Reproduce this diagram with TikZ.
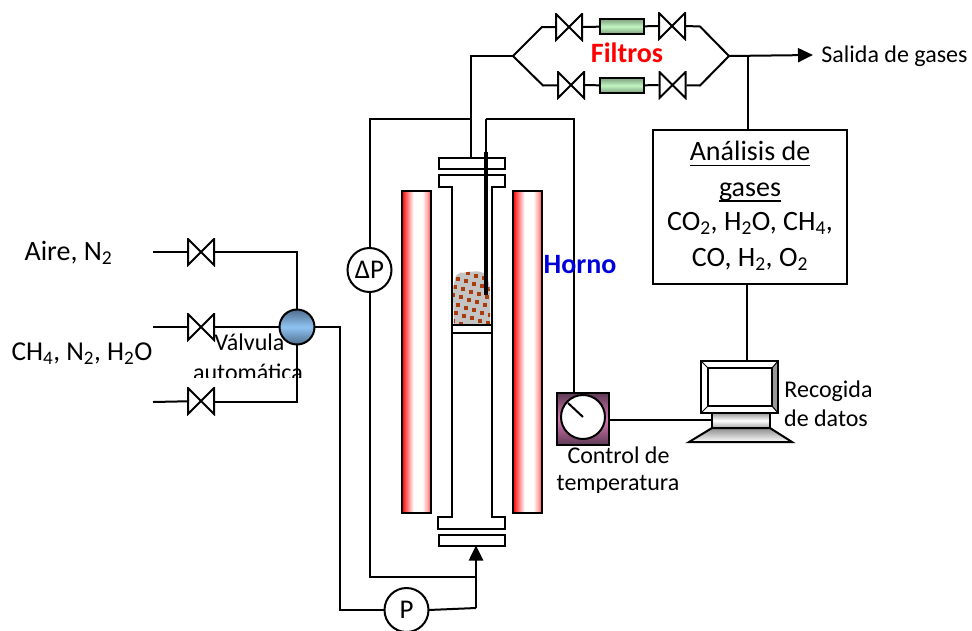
\documentclass[tikz,border=0pt]{standalone}
\usepackage{fontspec}
\setmainfont{Carlito}
\usetikzlibrary{arrows.meta,positioning}

\newcommand{\ulabel}[1]{\setbox0=\hbox{#1}\copy0\kern-\wd0\rule[-5.6pt]{\wd0}{1.6pt}}
\definecolor{bedgray}{HTML}{C4C4C4}
\definecolor{bedbrown}{HTML}{A83C0C}
\definecolor{autotop}{HTML}{4F6E8E}
\definecolor{automid}{HTML}{8FC3F2}
\definecolor{filteredge}{HTML}{7F9F7F}
\definecolor{filtermid}{HTML}{C0F5C0}
\definecolor{ctledge}{HTML}{5E3A55}
\definecolor{ctlmid}{HTML}{D878B0}
\pgfdeclarehorizontalshading{furnaceshade}{100bp}{color(0bp)=(red); color(25bp)=(red); color(34bp)=(red!55); color(45bp)=(white); color(60bp)=(white); color(70bp)=(red!40); color(75bp)=(red!80); color(100bp)=(red!80)}

\begin{document}
\begin{tikzpicture}[
  x=1pt, y=-1pt,
  line width=2pt,
  valve/.style={inner sep=0pt, outer sep=0pt, minimum width=28pt, minimum height=28pt,
    path picture={\draw ([shift={(1pt,1pt)}]path picture bounding box.south west) -- ([shift={(-1pt,-1pt)}]path picture bounding box.north east) -- ([shift={(-1pt,1pt)}]path picture bounding box.south east) -- ([shift={(1pt,-1pt)}]path picture bounding box.north west) -- cycle;}},
  filterbox/.style={rectangle, draw, inner sep=0pt, outer sep=0pt, minimum width=44pt, minimum height=15pt,
    top color=filteredge, bottom color=filteredge, middle color=filtermid},
  gauge/.style={circle, draw, fill=white, inner sep=0pt, outer sep=0pt, minimum size=44pt, font=\fontsize{27}{30}\selectfont},
  flange/.style={rectangle, draw, fill=white, inner sep=0pt, outer sep=0pt, minimum width=66pt, minimum height=11pt},
  heater/.style={rectangle, draw, shading=furnaceshade, inner sep=0pt, outer sep=0pt, minimum width=29pt, minimum height=322pt},
  biglabel/.style={inner sep=0pt, anchor=base, align=center, font=\fontsize{28}{30}\selectfont},
  headlabel/.style={inner sep=0pt, anchor=base, align=center, font=\fontsize{28}{30}\selectfont\bfseries},
  smalllabel/.style={inner sep=0pt, anchor=base, align=center, font=\fontsize{24}{26}\selectfont},
  rel/.style={-{Triangle[length=15pt,width=14pt]}}
]
\useasboundingbox (0,0) rectangle (972,630);

% left valves
\node[valve] (valveA) at (201,252) {};
\node[valve] (valveB) at (201,327) {};
\node[valve] (valveC) at (201,401) {};
\node[circle, draw, inner sep=0pt, outer sep=0pt, minimum size=35pt, top color=autotop, bottom color=autotop, middle color=automid] (auto) at (297,327) {};
\coordinate (inA) at (153,252);
\coordinate (inB) at (153,327);
\coordinate (inC) at (153,402);

\draw (inA) -- (valveA);
\draw (inB) -- (valveB);
\draw (inC) -- (valveC);
\draw (valveA.east) -| (auto.north);
\draw (valveB) -- (auto);
\draw (valveC.east |- inC) -| (auto.south);

% reactor
\node[heater] (heatL) at (416.5,352) {};
\node[heater] (heatR) at (527.5,352) {};
\node[flange] (topcap) at (471.5,163.5) {};
\node[flange] (botcap) at (472,540) {};
\draw[fill=white] (452,517) -- (438,517) -- (438,529) -- (505,529) -- (505,517) -- (492,517) -- (492,187) -- (505,187) -- (505,175) -- (439,175) -- (439,187) -- (452,187) -- cycle;
\begin{scope}
  \clip (453,295) .. controls (454,280) and (455,274) .. (460,273) .. controls (470,272) and (478,270) .. (484,273) .. controls (488,276) and (490,285) .. (490,295) -- (490,324) -- (454,324) -- cycle;
  \fill[bedgray] (450,268) rectangle (494,326);
  \foreach \i in {-1,...,7}
    \foreach \j in {0,...,9}
      \fill[bedbrown] ({450+\i*8-\j*2.5},{266+\j*8+\i*2.5}) rectangle ++(4,4);
\end{scope}
\draw (452,325) -- (492,325);
\draw (452,333) -- (492,333);

% gauges
\node[gauge] (dp) at (369.5,270) {ΔP};
\node[gauge] (pump) at (406.5,610) {P};
\coordinate (feed) at (476,608);
\coordinate (dpfeed) at (476,577);
\coordinate (dptop) at (471,119);

\draw (auto.east) -- (340,327) |- (pump.west);
\draw (pump.east) -- (feed);
\draw (dp.north) |- (dptop);
\draw (dp.south) |- (dpfeed);
\draw[rel, line width=2.6pt] (feed) -- (476,0 |- botcap.south);

% filters
\coordinate (split) at (513,56);
\coordinate (merge) at (729,56);
\node[valve] (valveD) at (569,27) {};
\node[filterbox] (filterA) at (622,26.5) {};
\node[valve] (valveE) at (672,26) {};
\node[valve] (valveF) at (571,85) {};
\node[filterbox] (filterB) at (621.5,85.5) {};
\node[valve] (valveG) at (672.5,85) {};
\draw (topcap.north -| dptop) |- (split);
\draw (split) -- (542,27) -- (valveD);
\draw (valveD) -- (filterA);
\draw (filterA) -- (valveE);
\draw (valveE.east) -- (700,26.5) -- (merge);
\draw (split) -- (543,85.5) -- (valveF);
\draw (valveF) -- (filterB);
\draw (filterB) -- (valveG);
\draw (valveG) -- (700,85.5) -- (merge);
\coordinate (outlet) at (813,55);
\draw[rel] (merge) -- (outlet);

% analysis and computer
\node[rectangle, draw, inner sep=0pt, outer sep=0pt, minimum width=194pt, minimum height=154pt] (analysis) at (750,207) {};
\draw (748,55) -- (748,0 |- analysis.north);
\node[rectangle, draw, fill=white, inner sep=0pt, outer sep=0pt, minimum width=77pt, minimum height=52pt] (monitor) at (739.5,387) {};
\fill[black!40] (monitor.north east) -- (772,368) -- (772,406) -- (monitor.south east) -- cycle;
\draw (monitor.north west) rectangle (monitor.south east);
\draw[line width=1.4pt] (708,368) rectangle (772,406);
\draw[line width=1pt] (monitor.north west) -- (708,368);
\draw[line width=1pt] (monitor.north east) -- (772,368);
\draw[line width=1pt] (monitor.south west) -- (708,406);
\draw[line width=1pt] (monitor.south east) -- (772,406);
\node[rectangle, draw, inner sep=0pt, outer sep=0pt, minimum width=58pt, minimum height=15pt, top color=black!40, bottom color=black!35, middle color=white] (stand) at (741,420.5) {};
\draw[top color=black!45, bottom color=white] (stand.south west) -- (stand.south east) -- (792,442) -- (689,442) -- cycle;
\node[rectangle, draw, inner sep=0pt, outer sep=0pt, minimum size=52pt, top color=ctledge, bottom color=ctledge, middle color=ctlmid] (control) at (583,419) {};
\node[circle, draw, fill=white, inner sep=0pt, outer sep=0pt, minimum size=44pt] (dial) at (583,417) {};
\draw (dial.center) -- (568,403);
\coordinate (probe) at (486,119);
\draw (probe) -- (574,119) -- (574,0 |- control.north);
\draw (control.east |- 0,420) -- (stand.west |- 0,420);
\draw (747,0 |- analysis.south) -- (747,0 |- monitor.north);
\draw[line width=3.4pt] (486,152) -- (486,295);
\draw (probe) -- (486,152);

% labels
\node[biglabel] (aire) at (68.5,260) {Aire, N\textsubscript{2}};
\node[biglabel, font=\fontsize{27.3}{30}\selectfont] (mix) at (82,360.7) {CH\textsubscript{4}, N\textsubscript{2}, H\textsubscript{2}O};
\node[headlabel, text=red] (filtros) at (627,62.7) {Filtros};
\node[headlabel, text=blue!85!black] (horno) at (580,273) {Horno};
\node[smalllabel] (salida) at (894.5,62.3) {Salida de gases};
\node[biglabel] (ana1) at (750,160.7) {\ulabel{Análisis de}};
\node[biglabel] (ana2) at (750,196) {\ulabel{gases}};
\node[biglabel] (ana3) at (750,230) {CO\textsubscript{2}, H\textsubscript{2}O, CH\textsubscript{4},};
\node[biglabel] (ana4) at (750,266) {CO, H\textsubscript{2}, O\textsubscript{2}};
\node[smalllabel] (rec1) at (828.5,397) {Recogida};
\node[smalllabel] (rec2) at (826,426.7) {de datos};
\node[smalllabel] (valv1) at (249.5,350) {Válvula};
\begin{scope}
  \clip (180,355) rectangle (320,377);
  \node[smalllabel] (valv2) at (248,380) {automática};
\end{scope}
\node[smalllabel] (ctl1) at (618.5,463) {Control de};
\begin{scope}
  \clip (540,468) rectangle (700,492);
  \node[smalllabel] (ctl2) at (618,490) {temperatura};
\end{scope}
\end{tikzpicture}
\end{document}
